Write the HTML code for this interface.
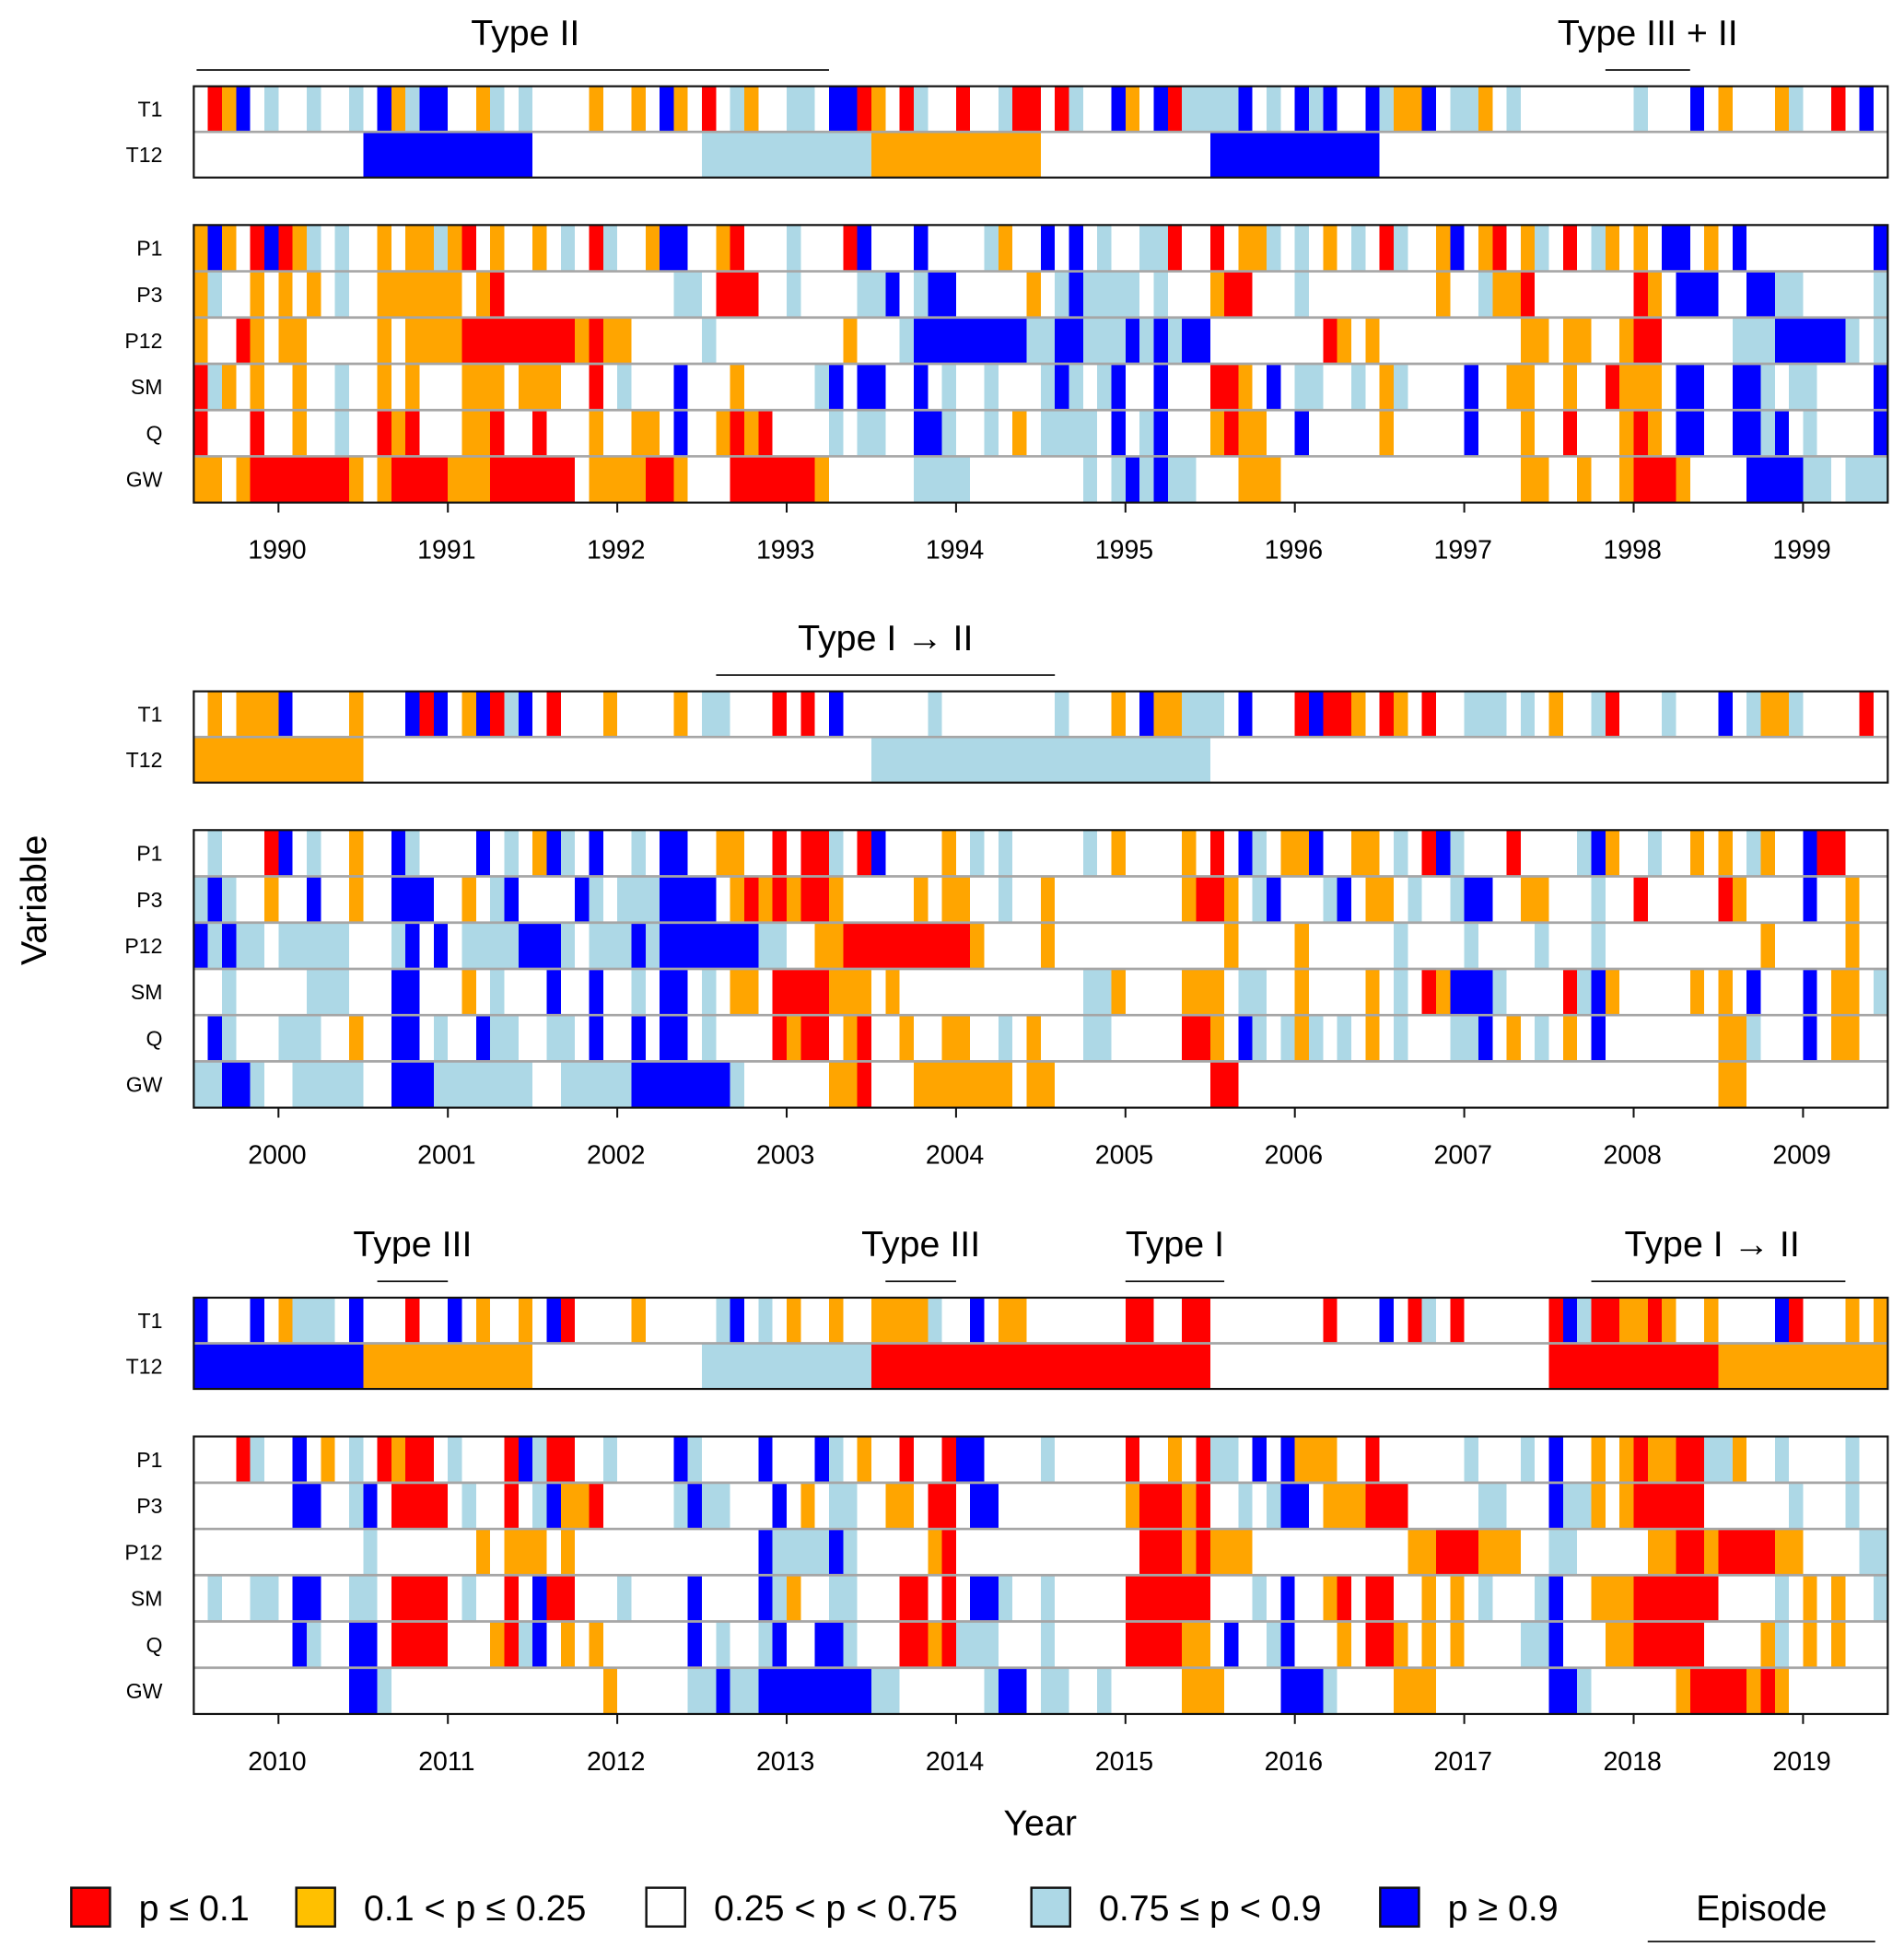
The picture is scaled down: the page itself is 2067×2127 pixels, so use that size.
<!DOCTYPE html>
<html><head><meta charset="utf-8"><style>
html,body{margin:0;padding:0;background:#fff;}
svg{display:block;font-family:"Liberation Sans",sans-serif;}
</style></head><body>
<svg id="chart" xmlns="http://www.w3.org/2000/svg" width="2067" height="2127" viewBox="0 0 1523 1567" preserveAspectRatio="none"></svg>
<script>
// ---- data: one code per month (Jul of start year -> Jun ten years later) ----
// r: p<=0.1, o: 0.1<p<=0.25, w: 0.25<p<0.75, l: 0.75<=p<0.9, b: p>=0.9
const decades = [1990, 2000, 2010];
const T1 = [
 "wrobwlwwlw"+"wlwbolbbww"+"olwlwwwwow"+"wowbowrwlo"+"wwllwbbrow"+"rlwwrwwlrr"+"wrlwwbowbr"+"llllbwlwbl"+"bwwbloobwl"+"lowlwwwwww"+"wwlwwwbwow"+"wwolwwrwbw",
 "wowooobwww"+"wowwwbrbwo"+"brlbwrwwwo"+"wwwwowllww"+"wrwrwbwwww"+"wwlwwwwwww"+"wlwwwowboo"+"lllwbwwwrb"+"rrowrowrww"+"lllwlwowwl"+"rwwwlwwwbw"+"loolwwwwrw",
 "bwwwbwolll"+"wbwwwrwwbw"+"owwowbrwww"+"wowwwwwlbw"+"lwowwowwoo"+"oolwwbwoow"+"wwwwwwrrww"+"rrwwwwwwww"+"rwwwbwrlwr"+"wwwwwwrblr"+"roorowwoww"+"wwbrwwwowo"
];
const T12 = ["wbwlowbwww", "owwwllwwww", "bowlrrwwro"];
const P1 = [
 "obowrbrolw"+"lwwowoolor"+"wowwowlwrl"+"wwobbwworw"+"wwlwwwrbww"+"wbwwwwloww"+"bwbwlwwllr"+"wwrwoolwlw"+"owlwrlwwob"+"worwolwrwl"+"owowbbwowb"+"wwwwwwwwwb",
 "wlwwwrbwlw"+"wowwblwwww"+"bwlwoblwbw"+"wlwbbwwoow"+"wrwrrlwrbw"+"wwwowlwlww"+"wwwlwowwww"+"owrwblwoob"+"wwoowlwrbl"+"wwwrwwwwlb"+"owwlwwowow"+"lowwbrrwww",
 "wwwrlwwbwo"+"wlwrorrwlw"+"wwrblrrwwl"+"wwwwblwwww"+"bwwwblwoww"+"rwwrbbwwww"+"lwwwwwrwwo"+"wrllwbwboo"+"owwrwwwwww"+"lwwwlwbwwo"+"woroorrllo"+"wwlwwwwlww"
];
const P3 = [
 "olwwowowow"+"lwwoooooow"+"orwwwwwwww"+"wwwwllwrrr"+"wwlwwwwllb"+"wlbbwwwwwo"+"wlbllllwlw"+"wworrwwwlw"+"wwwwwwwwow"+"wloorwwwww"+"wwrowbbbww"+"bbllwwwwwl",
 "lblwwowwbw"+"wowwbbbwwo"+"wlbwwwwblw"+"lllbbbbwor"+"ororrowwww"+"wowoowwlww"+"owwwwwwwww"+"orrowlbwww"+"lbwoowlwwl"+"bbwwoowwwl"+"wwrwwwwwro"+"wwwwbwwoww",
 "wwwwwwwbbw"+"wlbwrrrrwl"+"wwrwlboorw"+"wwwwlbllww"+"wbwowllwwo"+"owrrwbbwww"+"wwwwwworrr"+"orwwlwlbbw"+"ooorrrwwww"+"wllwwwbllo"+"worrrrrwww"+"wwwlwwwlww"
];
const P12 = [
 "owwrowooww"+"wwwowoooor"+"rrrrrrroro"+"owwwwwlwww"+"wwwwwwowww"+"lbbbbbbbbl"+"lbblllblbl"+"bbwwwwwwww"+"rowowwwwww"+"wwwwoowoow"+"worrwwwwwl"+"llbbbbblwl",
 "blbllwllll"+"lwwwlbwbwl"+"lllbbblwll"+"lblbbbbbbb"+"llwwoorrrr"+"rrrrrowwww"+"owwwwwwwww"+"wwwowwwwow"+"wwwwwlwwww"+"lwwwwlwwwl"+"wwwwwwwwww"+"wowwwwwoww",
 "wwwwwwwwww"+"wwlwwwwwww"+"owooowowww"+"wwwwwwwwww"+"bllllblwww"+"wworwwwwww"+"wwwwwwwrrr"+"orooowwwww"+"wwwwwwoorr"+"rooowwllww"+"wwwoorrorr"+"rroowwwwll"
];
const SM = [
 "rlowowwoww"+"lwwowowwwo"+"oowooowwrw"+"lwwwbwwwow"+"wwwwlbwbbw"+"wbwlwwlwww"+"lblwlbwwbw"+"wwrrowbwll"+"wwlwolwwww"+"bwwoowwoww"+"rooowbbwwb"+"blwllwwwwb",
 "wwlwwwwwll"+"lwwwbbwwwo"+"wlwwwbwwbw"+"wlwbbwlwoo"+"wrrrrooowo"+"wwwwwwwwww"+"wwwllowwww"+"ooowllwwow"+"wwwowlwrob"+"bblwwwwrlb"+"owwwwwowow"+"bwwwbwoowl",
 "wlwwllwbbw"+"wllwrrrrwl"+"wwrwbrrwww"+"lwwwwbwwww"+"blowwllwww"+"rrwrwbblww"+"lwwwwwrrrr"+"rrwwwlwbww"+"orwrrwwowo"+"wlwwwlbwwo"+"oorrrrrrww"+"wwlwowowwl"
];
const Q = [
 "rwwwrwwoww"+"lwwrorwwwo"+"orwwrwwwow"+"woowbwworo"+"rwwwwlwllw"+"wbblwwlwow"+"llllwbwlbw"+"wworoowwbw"+"wwwwowwwww"+"bwwwowwrww"+"worowbbwwb"+"blbwlwwwwb",
 "wblwwwlllw"+"wowwbbwlww"+"bllwwllwbw"+"wbwbbwlwww"+"wrorrworww"+"owwoowwlwo"+"wwwllwwwww"+"rrowblwlol"+"wlwowlwwwl"+"lbwowlwowb"+"wwwwwwwwoo"+"lwwwbwooww",
 "wwwwwwwblw"+"wbbwrrrrww"+"worlbwowow"+"wwwwwbwlww"+"lbwwbblwww"+"rrorlllwww"+"lwwwwwrrrr"+"oowbwwlbww"+"wowrrowowo"+"wwwwllbwww"+"oorrrrrwww"+"wolwowowww"
];
const GW = [
 "ooworrrrrr"+"roworrrroo"+"orrrrrrwoo"+"oorrowwwrr"+"rrrrowwwww"+"wllllwwwww"+"wwwlwlblbl"+"lwwwooowww"+"wwwwwwwwww"+"wwwwoowwow"+"worrrowwww"+"bbbbllwlll",
 "llbblwwlll"+"llwwbbblll"+"llllwwllll"+"lbbbbbbblw"+"wwwwwoorww"+"wooooooowo"+"owwwwwwwww"+"wwrrwwwwww"+"wwwwwwwwww"+"wwwwwwwwww"+"wwwwwwwwoo"+"wwwwwwwwww",
 "wwwwwwwwww"+"wbblwwwwww"+"wwwwwwwwwo"+"wwwwwllbll"+"bbbbbbbbll"+"wwwwwwlbbw"+"llwwlwwwww"+"ooowwwwbbb"+"lwwwwoooww"+"wwwwwwbblw"+"wwwwworrrr"+"orowwwwwww"
];
const lowerVars = ["P1","P3","P12","SM","Q","GW"];
const lowerData = [P1, P3, P12, SM, Q, GW];
// episodes: decade index, label, start month, end month
const episodePanel = [0, 0, 1, 2, 2, 2, 2];
const episodeLabel = ["Type II", "Type III + II", "Type I \u2192 II", "Type III", "Type III", "Type I", "Type I \u2192 II"];
const episodeStart = [0.2, 100, 37, 13, 49, 66, 99];
const episodeEnd = [45, 106, 61, 18, 54, 73, 117];
const episodeLabelShift = [10, 0, 0, 0, 0, 0, -5];
const legendLabels = ["p \u2264 0.1", "0.1 < p \u2264 0.25", "0.25 < p < 0.75", "0.75 \u2264 p < 0.9", "p \u2265 0.9"];

// ---- rendering ----
const NS = "http://www.w3.org/2000/svg";
const svg = document.getElementById("chart");
const COL = {r:"#ff0000", o:"#ffa500", w:"#ffffff", l:"#add8e6", b:"#0000ff"};
const LEGCOL = ["#ff0000", "#ffc000", "#ffffff", "#add8e6", "#0000ff"];
const X0 = 155, X1 = 1510, NM = 120;
function xs(m){ return X0 + m * (X1 - X0) / NM; }
const panelTop = [69, 553, 1038];
const UH = 36.5, LH = 37, LOFF = 111;
function mk(tag, attrs, parent){
  const e = document.createElementNS(NS, tag);
  for (const k in attrs) e.setAttribute(k, attrs[k]);
  (parent || svg).appendChild(e);
  return e;
}
function txt(s, attrs, parent){ const e = mk("text", attrs, parent); e.textContent = s; return e; }
function row(g, codes, y, h, span, name){
  const n = Math.round(NM / span);
  for (let i = 0; i < n; i++){
    const c = codes[i] || "w";
    const r = mk("rect", {x: xs(i*span), y: y, width: xs((i+1)*span) - xs(i*span) + 0.6, height: h, fill: COL[c], "shape-rendering":"crispEdges"}, g);
    
    
  }
}
decades.forEach((dec, p) => {
  const top = panelTop[p];
  const g = mk("g", {});
  
  
  row(g, T1[p], top, UH, 1, 't1-' + dec);
  row(g, T12[p], top + UH, UH, 12, 't12-' + dec);
  const sep1 = mk("line", {x1: X0, x2: X1, y1: top + UH, y2: top + UH, stroke: "#a6a6a6", "stroke-width": 2}, g);
  
  
  const ub = mk("rect", {x: X0, y: top, width: X1 - X0, height: 2*UH, fill: "none", stroke: "#111", "stroke-width": 1.6}, g);
  
  
  const l1 = txt("T1", {x: 130, y: top + UH/2 + 6, "text-anchor": "end", "font-size": 17}, g);
  
  
  const l2 = txt("T12", {x: 130, y: top + UH*1.5 + 6, "text-anchor": "end", "font-size": 17}, g);
  
  
  const lt = top + LOFF;
  lowerVars.forEach((v, k) => {
    row(g, lowerData[k][p], lt + k*LH, LH, 1, v.toLowerCase() + '-' + dec);
    const lb = txt(v, {x: 130, y: lt + k*LH + LH/2 + 6, "text-anchor": "end", "font-size": 17}, g);
    
    
  });
  for (let k = 1; k < lowerVars.length; k++){
    const s = mk("line", {x1: X0, x2: X1, y1: lt + k*LH, y2: lt + k*LH, stroke: "#a6a6a6", "stroke-width": 2}, g);
    
    
  }
  const lb2 = mk("rect", {x: X0, y: lt, width: X1 - X0, height: 6*LH, fill: "none", stroke: "#111", "stroke-width": 1.6}, g);
  
  
  const bot = lt + 6*LH;
  for (let y = 0; y < 10; y++){
    const xm = xs(6 + 12*y);
    const tk = mk("line", {x1: xm, x2: xm, y1: bot, y2: bot + 8, stroke: "#111", "stroke-width": 1.5}, g);
    
    
    const tl = txt(String(dec + y), {x: xm - 1, y: bot + 45, "text-anchor": "middle", "font-size": 21}, g);
    
    
  }
});
episodeLabel.forEach((lab, i) => {
  const top = panelTop[episodePanel[i]];
  const xa = xs(episodeStart[i]), xb = xs(episodeEnd[i]);
  const ln = mk("line", {x1: xa, x2: xb, y1: top - 13, y2: top - 13, stroke: "#111", "stroke-width": 1.3});
  
  
  const t = txt(lab, {x: (xa + xb)/2 + episodeLabelShift[i], y: top - 33, "text-anchor": "middle", "font-size": 29});
  
  
});
const yt = txt("Variable", {x: 0, y: 0, "text-anchor": "middle", "font-size": 29, transform: "translate(37,720) rotate(-90)"});


const xt = txt("Year", {x: 832, y: 1468, "text-anchor": "middle", "font-size": 29});


const legX = [57, 237, 517, 825, 1104];
legendLabels.forEach((lab, i) => {
  const sq = mk("rect", {x: legX[i], y: 1510, width: 31, height: 31, fill: LEGCOL[i], stroke: "#111", "stroke-width": 1.8});
  
  
  const t = txt(lab, {x: legX[i] + 54, y: 1536, "font-size": 29});
  
  
});
const ep = txt("Episode", {x: 1409, y: 1536, "text-anchor": "middle", "font-size": 29});


const epl = mk("line", {x1: 1318, x2: 1500, y1: 1553, y2: 1553, stroke: "#111", "stroke-width": 1.3});


</script>
</body></html>
